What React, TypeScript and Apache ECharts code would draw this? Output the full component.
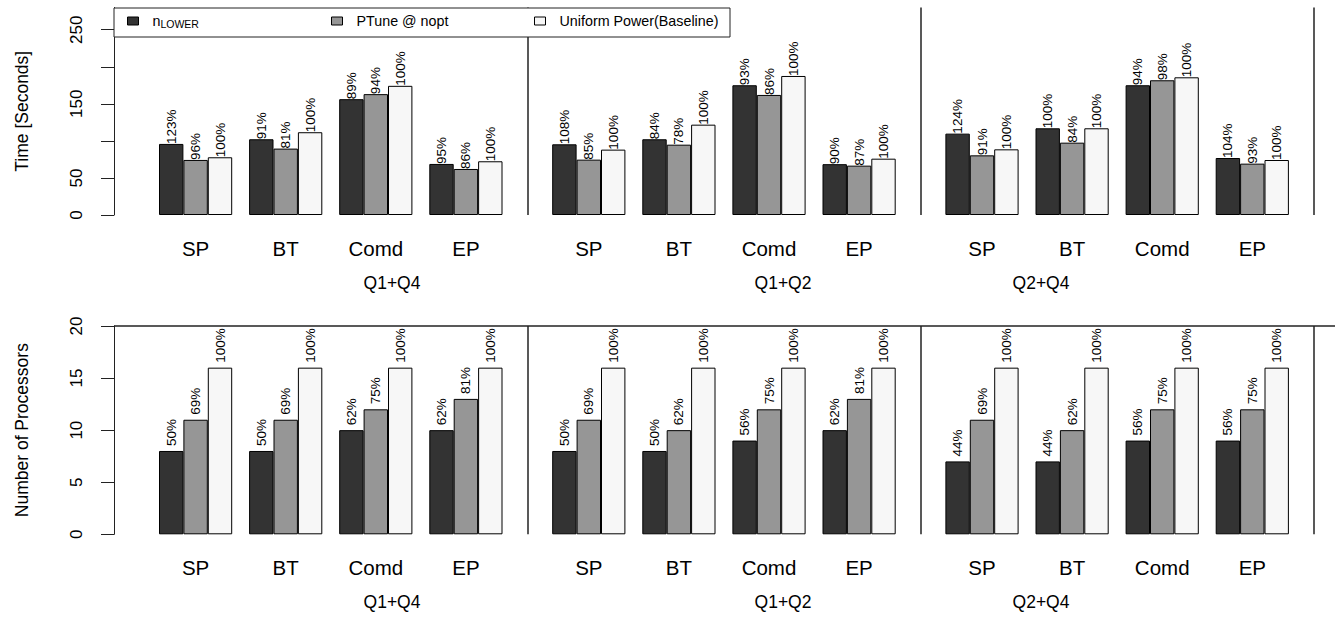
import React, { useEffect, useRef } from "react";
import * as echarts from "echarts";

// ---- data -------------------------------------------------------------
const benchmarks = ["SP", "BT", "Comd", "EP"];
const quadrantPairs = ["Q1+Q4", "Q1+Q2", "Q2+Q4"];
const seriesNames = ["nLOWER", "PTune @ nopt", "Uniform Power(Baseline)"];

// execution time in seconds; 12 groups = quadrant pair x benchmark
const timeLower = [95.9, 102.2, 156.3, 68.9, 95.4, 102.2, 175.1, 68.6, 109.8, 117.0, 175.1, 76.9];
const timePTune = [74.3, 89.6, 163.1, 62.1, 74.7, 94.9, 162.0, 66.6, 80.5, 97.6, 181.8, 69.3];
const timeUniform = [77.9, 111.7, 174.3, 72.5, 88.2, 121.9, 187.6, 76.0, 88.6, 117.0, 185.8, 74.2];
const timeLowerPct = ["123%", "91%", "89%", "95%", "108%", "84%", "93%", "90%", "124%", "100%", "94%", "104%"];
const timePTunePct = ["96%", "81%", "94%", "86%", "85%", "78%", "86%", "87%", "91%", "84%", "98%", "93%"];
const timeUniformPct = ["100%", "100%", "100%", "100%", "100%", "100%", "100%", "100%", "100%", "100%", "100%", "100%"];

// number of processors used
const procLower = [8, 8, 10, 10, 8, 8, 9, 10, 7, 7, 9, 9];
const procPTune = [11, 11, 12, 13, 11, 10, 12, 13, 11, 10, 12, 12];
const procUniform = [16, 16, 16, 16, 16, 16, 16, 16, 16, 16, 16, 16];
const procLowerPct = ["50%", "50%", "62%", "62%", "50%", "50%", "56%", "62%", "44%", "44%", "56%", "56%"];
const procPTunePct = ["69%", "69%", "75%", "81%", "69%", "62%", "75%", "81%", "69%", "62%", "75%", "75%"];
const procUniformPct = ["100%", "100%", "100%", "100%", "100%", "100%", "100%", "100%", "100%", "100%", "100%", "100%"];

const timeTicks = [0, 50, 100, 150, 200, 250];
const timeTickLabels = [0, 50, 150, 250];
const procTicks = [0, 5, 10, 15, 20];

// ---- layout (x axis runs in pixel-like units from the y axis) ----------
const W = 1335;
const H = 623;
const PLOT_LEFT = 114;
const X_SPAN = W - PLOT_LEFT;
const FIRST = 45;
const BAR_W = 24.4;
const GROUP_PITCH = 90.1;
const PANEL_PITCH = 393.2;
const PAIR_LABEL_X = [278, 669, 927];

const FONT = "'Liberation Sans', Arial, Helvetica, sans-serif";
const FILLS = ["#333333", "#969696", "#f7f7f7"];
const INK = "#000000";

const groupStart = (i: number) =>
  FIRST + Math.floor(i / 4) * PANEL_PITCH + (i % 4) * GROUP_PITCH;
const barCenter = (i: number, s: number) => groupStart(i) + (s + 0.5) * BAR_W;
const groupCenters = Array.from({ length: 12 }, (_, i) => groupStart(i) + 1.5 * BAR_W);
const separators = [0, 1, 2].map((q) => groupStart(q * 4 + 3) + 3 * BAR_W + 25);

const nearestIndex = (list: number[], v: number) =>
  list.findIndex((c) => Math.abs(c - v) < 0.5);

export default function App() {
  const ref = useRef<HTMLDivElement>(null);

  useEffect(() => {
    if (!ref.current) return;
    const chart = echarts.init(ref.current, null, { renderer: "svg" });

    const gridBase = { left: PLOT_LEFT, right: 0, containLabel: false, outerBoundsMode: "none" };
    const topGrid = { ...gridBase, top: 7.5, bottom: H - 215 };
    const botGrid = { ...gridBase, top: 326, bottom: H - 534.3 };

    const xAxes: any[] = [];
    [0, 1].forEach((g) => {
      xAxes.push({
        type: "value",
        gridIndex: g,
        position: "bottom",
        min: 0,
        max: X_SPAN,
        axisLine: { show: false },
        axisTick: { show: false },
        splitLine: { show: false },
        axisLabel: {
          customValues: groupCenters,
          formatter: (v: number) => {
            const k = nearestIndex(groupCenters, v);
            return k >= 0 ? benchmarks[k % 4] : "";
          },
          margin: 23,
          fontSize: 20.5,
          fontFamily: FONT,
          color: INK,
        },
      });
      xAxes.push({
        type: "value",
        gridIndex: g,
        position: "bottom",
        min: 0,
        max: X_SPAN,
        axisLine: { show: false },
        axisTick: { show: false },
        splitLine: { show: false },
        axisLabel: {
          customValues: PAIR_LABEL_X,
          formatter: (v: number) => {
            const k = nearestIndex(PAIR_LABEL_X, v);
            return k >= 0 ? quadrantPairs[k] : "";
          },
          margin: 59,
          fontSize: 17.5,
          fontFamily: FONT,
          color: INK,
        },
      });
    });

    const yAxisCommon = {
      type: "value",
      nameLocation: "middle",
      nameGap: 83,
      nameTextStyle: { fontSize: 17.5, fontFamily: FONT, color: INK },
      axisLine: { show: true, lineStyle: { color: "#222", width: 1 } },
      splitLine: { show: false },
    };

    const yAxes = [
      {
        ...yAxisCommon,
        gridIndex: 0,
        min: 0,
        max: 280,
        name: "Time [Seconds]",
        axisTick: { show: true, length: 13, customValues: timeTicks, lineStyle: { color: "#222" } },
        axisLabel: {
          customValues: timeTickLabels,
          rotate: 90,
          margin: 29,
          fontSize: 17,
          fontFamily: FONT,
          color: INK,
        },
      },
      {
        ...yAxisCommon,
        gridIndex: 1,
        min: 0,
        max: 20,
        name: "Number of Processors",
        axisTick: { show: true, length: 13, customValues: procTicks, lineStyle: { color: "#222" } },
        axisLabel: {
          customValues: procTicks,
          rotate: 90,
          margin: 29,
          fontSize: 17,
          fontFamily: FONT,
          color: INK,
        },
      },
    ];

    const panelSeries = (
      gridIdx: number,
      values: number[][],
      labels: string[][],
      labelDistance: number,
      extraLines: any[]
    ) =>
      values.map((vals, s) => ({
        type: "bar",
        name: seriesNames[s],
        xAxisIndex: gridIdx * 2,
        yAxisIndex: gridIdx,
        barWidth: BAR_W,
        barGap: "-100%",
        data: vals.map((v, i) => [barCenter(i, s), v]),
        itemStyle: { color: FILLS[s], borderColor: INK, borderWidth: 1 },
        label: {
          show: true,
          position: "top",
          distance: labelDistance,
          rotate: 90,
          align: "left",
          verticalAlign: "middle",
          fontSize: 13.5,
          fontFamily: FONT,
          color: INK,
          formatter: (p: any) => labels[s][p.dataIndex],
        },
        markLine:
          s === 2
            ? {
                silent: true,
                symbol: ["none", "none"],
                label: { show: false },
                lineStyle: { color: "#222", width: 1.5, type: "solid" },
                data: [...separators.map((x) => ({ xAxis: x })), ...extraLines],
              }
            : undefined,
      }));

    const series = [
      ...panelSeries(
        0,
        [timeLower, timePTune, timeUniform],
        [timeLowerPct, timePTunePct, timeUniformPct],
        0,
        []
      ),
      ...panelSeries(
        1,
        [procLower, procPTune, procUniform],
        [procLowerPct, procPTunePct, procUniformPct],
        5,
        [{ yAxis: 20 }]
      ),
    ];

    const legendLeft = [127, 331, 534];
    const legends = seriesNames.map((name, i) => ({
      data: [
        {
          name,
          icon: "rect",
          itemStyle: { color: FILLS[i], borderColor: INK, borderWidth: 1 },
        },
      ],
      left: legendLeft[i],
      top: 14,
      padding: 0,
      itemWidth: 11,
      itemHeight: 8,
      selectedMode: false,
      z: 20,
      formatter: i === 0 ? () => "{base|n}{sub|LOWER}" : undefined,
      textStyle: {
        fontSize: 14.3,
        fontFamily: FONT,
        color: INK,
        padding: [0, 0, 0, 9],
        rich: {
          base: { fontSize: 14.3, fontFamily: FONT, color: INK },
          sub: { fontSize: 10.5, fontFamily: FONT, color: INK, padding: [6, 0, 0, 0] },
        },
      },
    }));

    chart.setOption({
      animation: false,
      backgroundColor: "#ffffff",
      grid: [topGrid, botGrid],
      xAxis: xAxes,
      yAxis: yAxes,
      legend: legends,
      graphic: [
        {
          type: "rect",
          z: 10,
          shape: { x: PLOT_LEFT, y: 8, width: 616, height: 29 },
          style: { fill: "#ffffff", stroke: "#222", lineWidth: 1 },
        },
      ],
      series,
    });

    return () => chart.dispose();
  }, []);

  return (
    <div
      ref={ref}
      style={{ position: "fixed", left: 0, top: 0, width: W, height: H, background: "#fff" }}
    />
  );
}
